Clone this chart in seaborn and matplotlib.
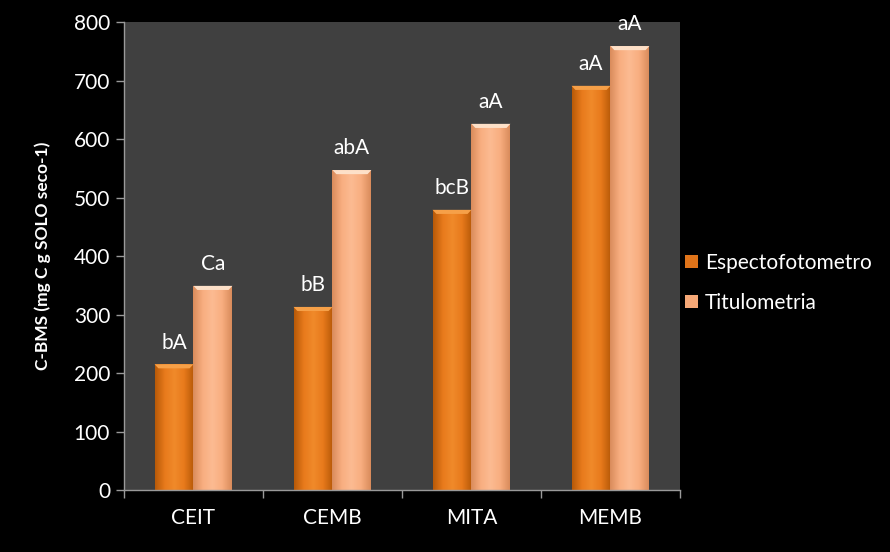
import numpy as np
import pandas as pd
import matplotlib
matplotlib.use("Agg")
import matplotlib.pyplot as plt
import seaborn as sns
from matplotlib.colors import LinearSegmentedColormap
from matplotlib.patches import Patch

# Data
categories = ["CEIT", "CEMB", "MITA", "MEMB"]
espectofotometro = [215, 313, 479, 691]
titulometria = [349, 547, 626, 759]
labels_espec = ["bA", "bB", "bcB", "aA"]
labels_titul = ["Ca", "abA", "aA", "aA"]
methods = ["Espectofotometro", "Titulometria"]

df = pd.DataFrame({
    "categoria": categories * 2,
    "valor": espectofotometro + titulometria,
    "metodo": [methods[0]] * 4 + [methods[1]] * 4,
})

sns.set_theme(style="dark")
plt.rcParams["font.family"] = ["Lato", "DejaVu Sans"]

fig = plt.figure(figsize=(8.9, 5.52), dpi=100, facecolor="black")
ax = fig.add_axes([0.1393, 0.1123, 0.6247, 0.8477])
ax.set_facecolor("#404040")

palette = {methods[0]: "#E0741A", methods[1]: "#F6A877"}
sns.barplot(data=df, x="categoria", y="valor", hue="metodo", palette=palette,
            width=0.56, ax=ax, legend=False, saturation=1, linewidth=0)

# Shaded fill for each bar (dark edges, bright centre)
grads = {
    methods[0]: LinearSegmentedColormap.from_list(
        "e", ["#B85A08", "#E87A1C", "#F08A2A", "#E87A1C", "#B85A08"]),
    methods[1]: LinearSegmentedColormap.from_list(
        "t", ["#DA8C5C", "#F8AE80", "#FCBB92", "#F8AE80", "#DA8C5C"]),
}
caps = {methods[0]: "#F6A048", methods[1]: "#FDE0C8"}
xs = np.linspace(0, 1, 64).reshape(1, -1)
ax.set_ylim(0, 800)
ax.set_xlim(-0.5, 3.5)
for i, container in enumerate(ax.containers):
    m = methods[i]
    for bar in container:
        x0, y0 = bar.get_x(), bar.get_y()
        w, h = bar.get_width(), bar.get_height()
        im = ax.imshow(xs, cmap=grads[m], aspect="auto",
                       extent=[x0, x0 + w, y0, y0 + h], zorder=bar.get_zorder() + 0.1)
        im.set_clip_path(bar)
        # bevelled top
        ax.fill([x0, x0 + w, x0 + w * 0.9, x0 + w * 0.1],
                [y0 + h, y0 + h, y0 + h - 7, y0 + h - 7],
                color=caps[m], lw=0, zorder=bar.get_zorder() + 0.2)
ax.set_xlim(-0.5, 3.5)
ax.set_ylim(0, 800)

# Value-group labels over bars
for i, (vals, labs) in enumerate([(espectofotometro, labels_espec),
                                   (titulometria, labels_titul)]):
    for bar, v, lab in zip(ax.containers[i], vals, labs):
        ax.text(bar.get_x() + bar.get_width() / 2, v + 20, lab,
                ha="center", va="bottom", color="white", fontsize=15)

ax.set_yticks(range(0, 801, 100))
ax.set_xticks(range(4))
ax.set_xticklabels(categories)
ax.set_xticks([-0.5, 0.5, 1.5, 2.5, 3.5], minor=True)
ax.tick_params(axis="x", which="major", length=0, colors="white",
               labelsize=15, pad=13)
ax.tick_params(axis="x", which="minor", length=6, color="#9a9a9a", width=1,
               direction="out", bottom=True)
ax.tick_params(axis="y", length=6, color="#9a9a9a", width=1, direction="out",
               labelcolor="white", labelsize=15, pad=4, left=True)
ax.set_xlabel("")
ax.set_ylabel("C-BMS (mg C g SOLO seco-1)", color="white", fontsize=12.5,
              fontweight="bold", labelpad=16)
ax.grid(False)
for s in ["top", "right"]:
    ax.spines[s].set_visible(False)
for s in ["left", "bottom"]:
    ax.spines[s].set_visible(True)
    ax.spines[s].set_color("#9a9a9a")
    ax.spines[s].set_linewidth(1)

handles = [Patch(facecolor=palette[m], edgecolor="none") for m in methods]
leg = fig.legend(handles, methods, loc="center left", bbox_to_anchor=(0.749, 0.488),
                 frameon=False, fontsize=15, labelcolor="white",
                 handlelength=0.6, handleheight=0.6, handletextpad=0.35,
                 labelspacing=0.95)

fig.savefig("out.png", dpi=100, facecolor="black")
